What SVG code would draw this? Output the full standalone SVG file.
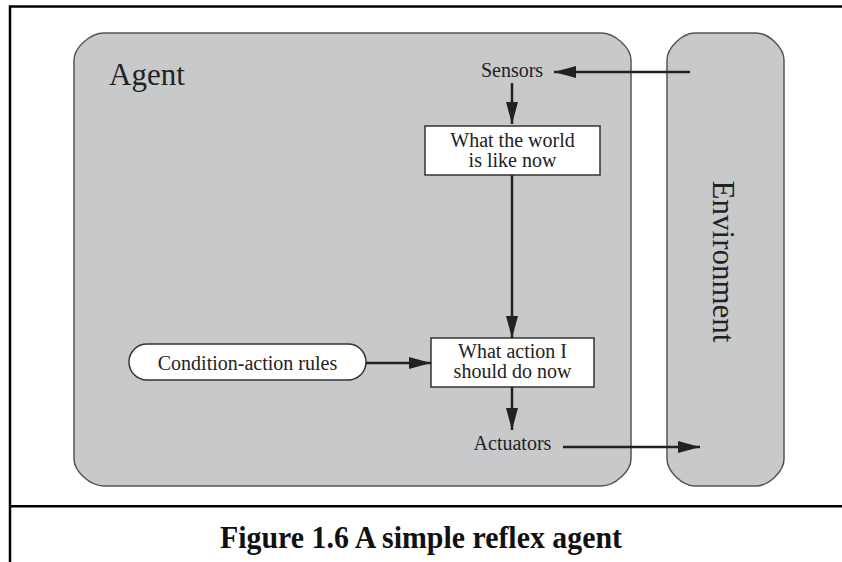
<svg xmlns="http://www.w3.org/2000/svg" width="842" height="562" viewBox="0 0 842 562">
<defs>
<marker id="ah" markerUnits="userSpaceOnUse" markerWidth="22" markerHeight="12" refX="22" refY="6" orient="auto">
<path d="M0,0 L22,6 L0,12 Z" fill="#222"/>
</marker>
<style>
.t{font-family:"Liberation Serif","Times New Roman",serif;fill:#222;text-anchor:middle}
.s{font-size:20px}
.big{font-size:31px}
.panel{fill:#c8c9cb;stroke:#555;stroke-width:1.5}
.box{fill:#fff;stroke:#333;stroke-width:1.5}
.c{stroke:#222;stroke-width:2.5;fill:none;marker-end:url(#ah)}
.frame{stroke:#000;stroke-width:2.5;fill:none}
</style>
</defs>
<rect width="842" height="562" fill="#fff"/>
<g id="frame">
<path class="frame" d="M10,562 L10,6.5 L842,6.5 M10,506.3 L842,506.3"/>
</g>
<g id="agent">
<path class="panel" d="M74,60 C74,48 90,33 104,33 L601,33 C615,33 631,48 631,60 L631,459 C631,471 615,486 601,486 L104,486 C90,486 74,471 74,459 Z"/>
<text class="t big" x="109" y="85" style="text-anchor:start">Agent</text>
</g>
<g id="environment">
<path class="panel" d="M667,60 C667,48 682,33 695,33 L756,33 C769,33 784,48 784,60 L784,459 C784,471 769,486 756,486 L695,486 C682,486 667,471 667,459 Z"/>
<text class="t big" transform="translate(713,261.5) rotate(90)">Environment</text>
</g>
<g id="sensors">
<text class="t s" x="512" y="77">Sensors</text>
</g>
<g id="world">
<rect class="box" x="425" y="126" width="175" height="49"/>
<text class="t s" x="512.5" y="147">What the world</text>
<text class="t s" x="512.5" y="167">is like now</text>
</g>
<g id="action">
<rect class="box" x="431" y="338" width="163" height="49"/>
<text class="t s" x="512.5" y="358">What action I</text>
<text class="t s" x="512.5" y="378">should do now</text>
</g>
<g id="rules">
<rect class="box" x="129" y="344" width="237" height="36" rx="18"/>
<text class="t s" x="247.5" y="369.5">Condition-action rules</text>
</g>
<g id="actuators">
<text class="t s" x="512.5" y="450">Actuators</text>
</g>
<g id="connectors">
<line class="c" x1="690" y1="72" x2="554" y2="72"/>
<line class="c" x1="512" y1="83" x2="512" y2="124"/>
<line class="c" x1="512" y1="175" x2="512" y2="338"/>
<line class="c" x1="366" y1="363" x2="431" y2="363"/>
<line class="c" x1="512" y1="387" x2="512" y2="430"/>
<line class="c" x1="563" y1="447" x2="700" y2="447"/>
</g>
<g id="caption">
<text class="t" x="421" y="548" textLength="402" lengthAdjust="spacingAndGlyphs" style="font-size:31px;font-weight:bold;fill:#111">Figure 1.6 A simple reflex agent</text>
</g>
</svg>
